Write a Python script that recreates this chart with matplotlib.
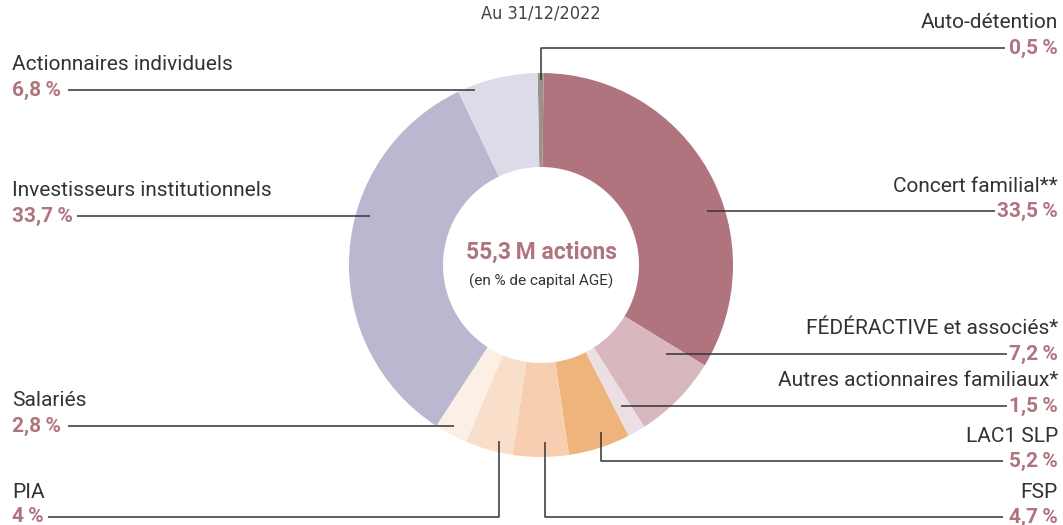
import matplotlib
matplotlib.use("Agg")
import matplotlib.pyplot as plt

W, H = 1063, 525

# shareholders, clockwise from 12 o'clock
names = ['Auto-détention', 'Concert familial**', 'FÉDÉRACTIVE et associés*',
         'Autres actionnaires familiaux*', 'LAC1 SLP', 'FSP', 'PIA', 'Salariés',
         'Investisseurs institutionnels', 'Actionnaires individuels']
shares = [0.5, 33.5, 7.2, 1.5, 5.2, 4.7, 4.0, 2.8, 33.7, 6.8]
share_labels = ['0,5\u2009%', '33,5\u2009%', '7,2\u2009%', '1,5\u2009%', '5,2\u2009%',
                '4,7\u2009%', '4\u2009%', '2,8\u2009%', '33,7\u2009%', '6,8\u2009%']
colors = ['#9a918d', '#b0747f', '#d8b8be', '#ebdfe3', '#efb47c', '#f7cfb0',
          '#f9dfca', '#fcefe5', '#bab8d0', '#dcdbe8']

# label layout (pixels from top-left): side, y of the percent line, anchor in the ring
side = ['R', 'R', 'R', 'R', 'R', 'R', 'L', 'L', 'L', 'L']
line_y = [48, 211, 354, 406, 461, 517, 517, 426, 216, 90]
line_end = [1005, 995, 1007, 1007, 1003, 1003, 48, 68, 77, 68]
anchor = [(541, 80), (707, 211), (666, 354), (621, 406), (601, 432),
          (545, 442), (499, 441), (454, 426), (370, 216), (475, 90)]

rose = '#b0747f'
ink = '#333333'
plt.rcParams['font.family'] = ['Roboto', 'DejaVu Sans']

fig = plt.figure(figsize=(W / 100, H / 100), dpi=100)
ax = fig.add_axes([0, 0, 1, 1])

cx, cy, r_out = 541, 265, 192
ax.pie(shares, colors=colors, startangle=91, counterclock=False, radius=r_out,
       center=(cx, H - cy), wedgeprops=dict(width=94, linewidth=0))

for i, name in enumerate(names):
    ax_x, ax_y = anchor[i]
    y = line_y[i]
    if side[i] == 'R':
        tx, ha = 1058, 'right'
    else:
        tx, ha = 12, 'left'
    if ax_y == y:
        xs, ys = [ax_x, line_end[i]], [y, y]
    else:
        xs, ys = [ax_x, ax_x, line_end[i]], [ax_y, y, y]
    ax.plot(xs, [H - v for v in ys], color=ink, lw=1.1, solid_capstyle='butt')
    ax.text(tx, H - (y - 25), name, ha=ha, va='center', fontsize=15, color=ink)
    ax.text(tx, H - y, share_labels[i], ha=ha, va='center', fontsize=15,
            fontweight='bold', color=rose)

ax.text(cx, H - 252, '55,3\u2009M actions', ha='center', va='center', fontsize=16.5,
        fontweight='bold', color=rose)
ax.text(cx, H - 281, '(en % de capital AGE)', ha='center', va='center',
        fontsize=11, color=ink)
ax.text(cx, H - 13, 'Au 31/12/2022', ha='center', va='center', fontsize=13,
        color='#444444', family='DejaVu Sans', fontstretch='condensed')

ax.set_xlim(0, W)
ax.set_ylim(0, H)
ax.set_aspect('equal')
ax.axis('off')

fig.savefig('out.png', dpi=100)
